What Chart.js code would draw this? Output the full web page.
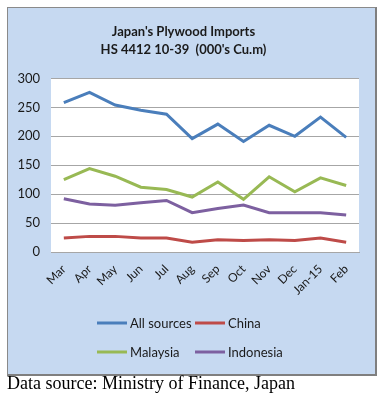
<!DOCTYPE html>
<html>
<head>
<meta charset="utf-8">
<script src="https://cdn.jsdelivr.net/npm/chart.js@4.4.1/dist/chart.umd.min.js"></script>
<style>
  body { margin: 0; background: #fff; }
  #frame {
    position: absolute; left: 7px; top: 7px;
    width: 367px; height: 366px;
    background: #c6d9f1;
    border: 1px solid #8a8a8a;
    border-right: 2px solid #7f7f7f;
    border-bottom: 2px solid #7f7f7f;
  }
  #note {
    position: absolute; left: 7px; top: 373px;
    font-family: "Liberation Serif", "DejaVu Serif", serif;
    font-size: 18px; color: #000;
  }
</style>
</head>
<body>
<div id="frame"><canvas id="plywoodChart" width="367" height="366"></canvas></div>
<div id="note">Data source: Ministry of Finance, Japan</div>
<script>
// months Mar 2014 .. Feb 2015
const months = ['Mar', 'Apr', 'May', 'Jun', 'Jul', 'Aug', 'Sep', 'Oct', 'Nov', 'Dec', 'Jan-15', 'Feb'];
const allSources = [258, 276, 254, 245, 238, 196, 221, 191, 219, 200, 233, 198];
const china = [24, 27, 27, 24, 24, 17, 21, 20, 21, 20, 24, 17];
const malaysia = [125, 144, 131, 112, 108, 95, 121, 91, 130, 104, 128, 115];
const indonesia = [92, 83, 81, 85, 89, 68, 75, 81, 68, 68, 68, 64];
const yTicks = [0, 50, 100, 150, 200, 250, 300];

const FONT = 'Lato, "Liberation Sans", sans-serif';

// white plot area
const plotBg = {
  id: 'plotBg',
  beforeDraw(chart) {
    const a = chart.chartArea, c = chart.ctx;
    c.save();
    c.fillStyle = '#ffffff';
    c.fillRect(a.left, a.top, a.right - a.left, a.bottom - a.top);
    c.restore();
  }
};

// two-row legend like the excel one
const legendRows = {
  id: 'legendRows',
  afterDraw(chart) {
    const c = chart.ctx;
    const spots = [[89, 315], [187, 315], [89, 344], [187, 344]];
    c.save();
    c.font = '13px ' + FONT;
    c.textBaseline = 'middle';
    chart.data.datasets.forEach(function(ds, i) {
      const x = spots[i][0], y = spots[i][1];
      c.strokeStyle = ds.borderColor;
      c.lineWidth = 3;
      c.beginPath();
      c.moveTo(x, y);
      c.lineTo(x + 30, y);
      c.stroke();
      c.fillStyle = '#1a1a1a';
      c.fillText(ds.label, x + 33, y + 1);
    });
    c.restore();
  }
};

const ctx = document.getElementById('plywoodChart').getContext('2d');
const plywoodChart = new Chart(ctx, {
  type: 'line',
  data: {
    labels: months,
    datasets: [
      { label: 'All sources', data: allSources, borderColor: '#4a7ebb' },
      { label: 'China', data: china, borderColor: '#be4b48' },
      { label: 'Malaysia', data: malaysia, borderColor: '#98b954' },
      { label: 'Indonesia', data: indonesia, borderColor: '#7d60a0' }
    ]
  },
  options: {
    responsive: false,
    animation: false,
    elements: {
      line: { borderWidth: 3, tension: 0 },
      point: { radius: 0 }
    },
    layout: { padding: { left: 0, right: 16, top: 0, bottom: 72 } },
    plugins: {
      legend: { display: false },
      tooltip: { enabled: false },
      title: {
        display: true,
        text: ["Japan's Plywood Imports", "HS 4412 10-39  (000's Cu.m)"],
        color: '#1a1a1a',
        font: { family: FONT, size: 13, weight: 'bold', lineHeight: 1.4 },
        padding: { top: 15, bottom: 19 }
      }
    },
    scales: {
      x: {
        offset: true,
        grid: { display: false },
        border: { color: '#a6a6a6' },
        ticks: {
          minRotation: 45, maxRotation: 45,
          color: '#1a1a1a',
          font: { family: FONT, size: 12 },
          padding: 2
        },
        afterFit(scale) { scale.height = 50; }
      },
      y: {
        min: 0, max: 300,
        afterBuildTicks(scale) { scale.ticks = yTicks.map(v => ({ value: v })); },
        grid: { color: '#a6a6a6', drawTicks: false },
        border: { display: false },
        ticks: {
          color: '#1a1a1a',
          font: { family: FONT, size: 13 },
          padding: 11
        },
        afterFit(scale) { scale.width = 43; }
      }
    }
  },
  plugins: [plotBg, legendRows]
});
</script>
</body>
</html>
